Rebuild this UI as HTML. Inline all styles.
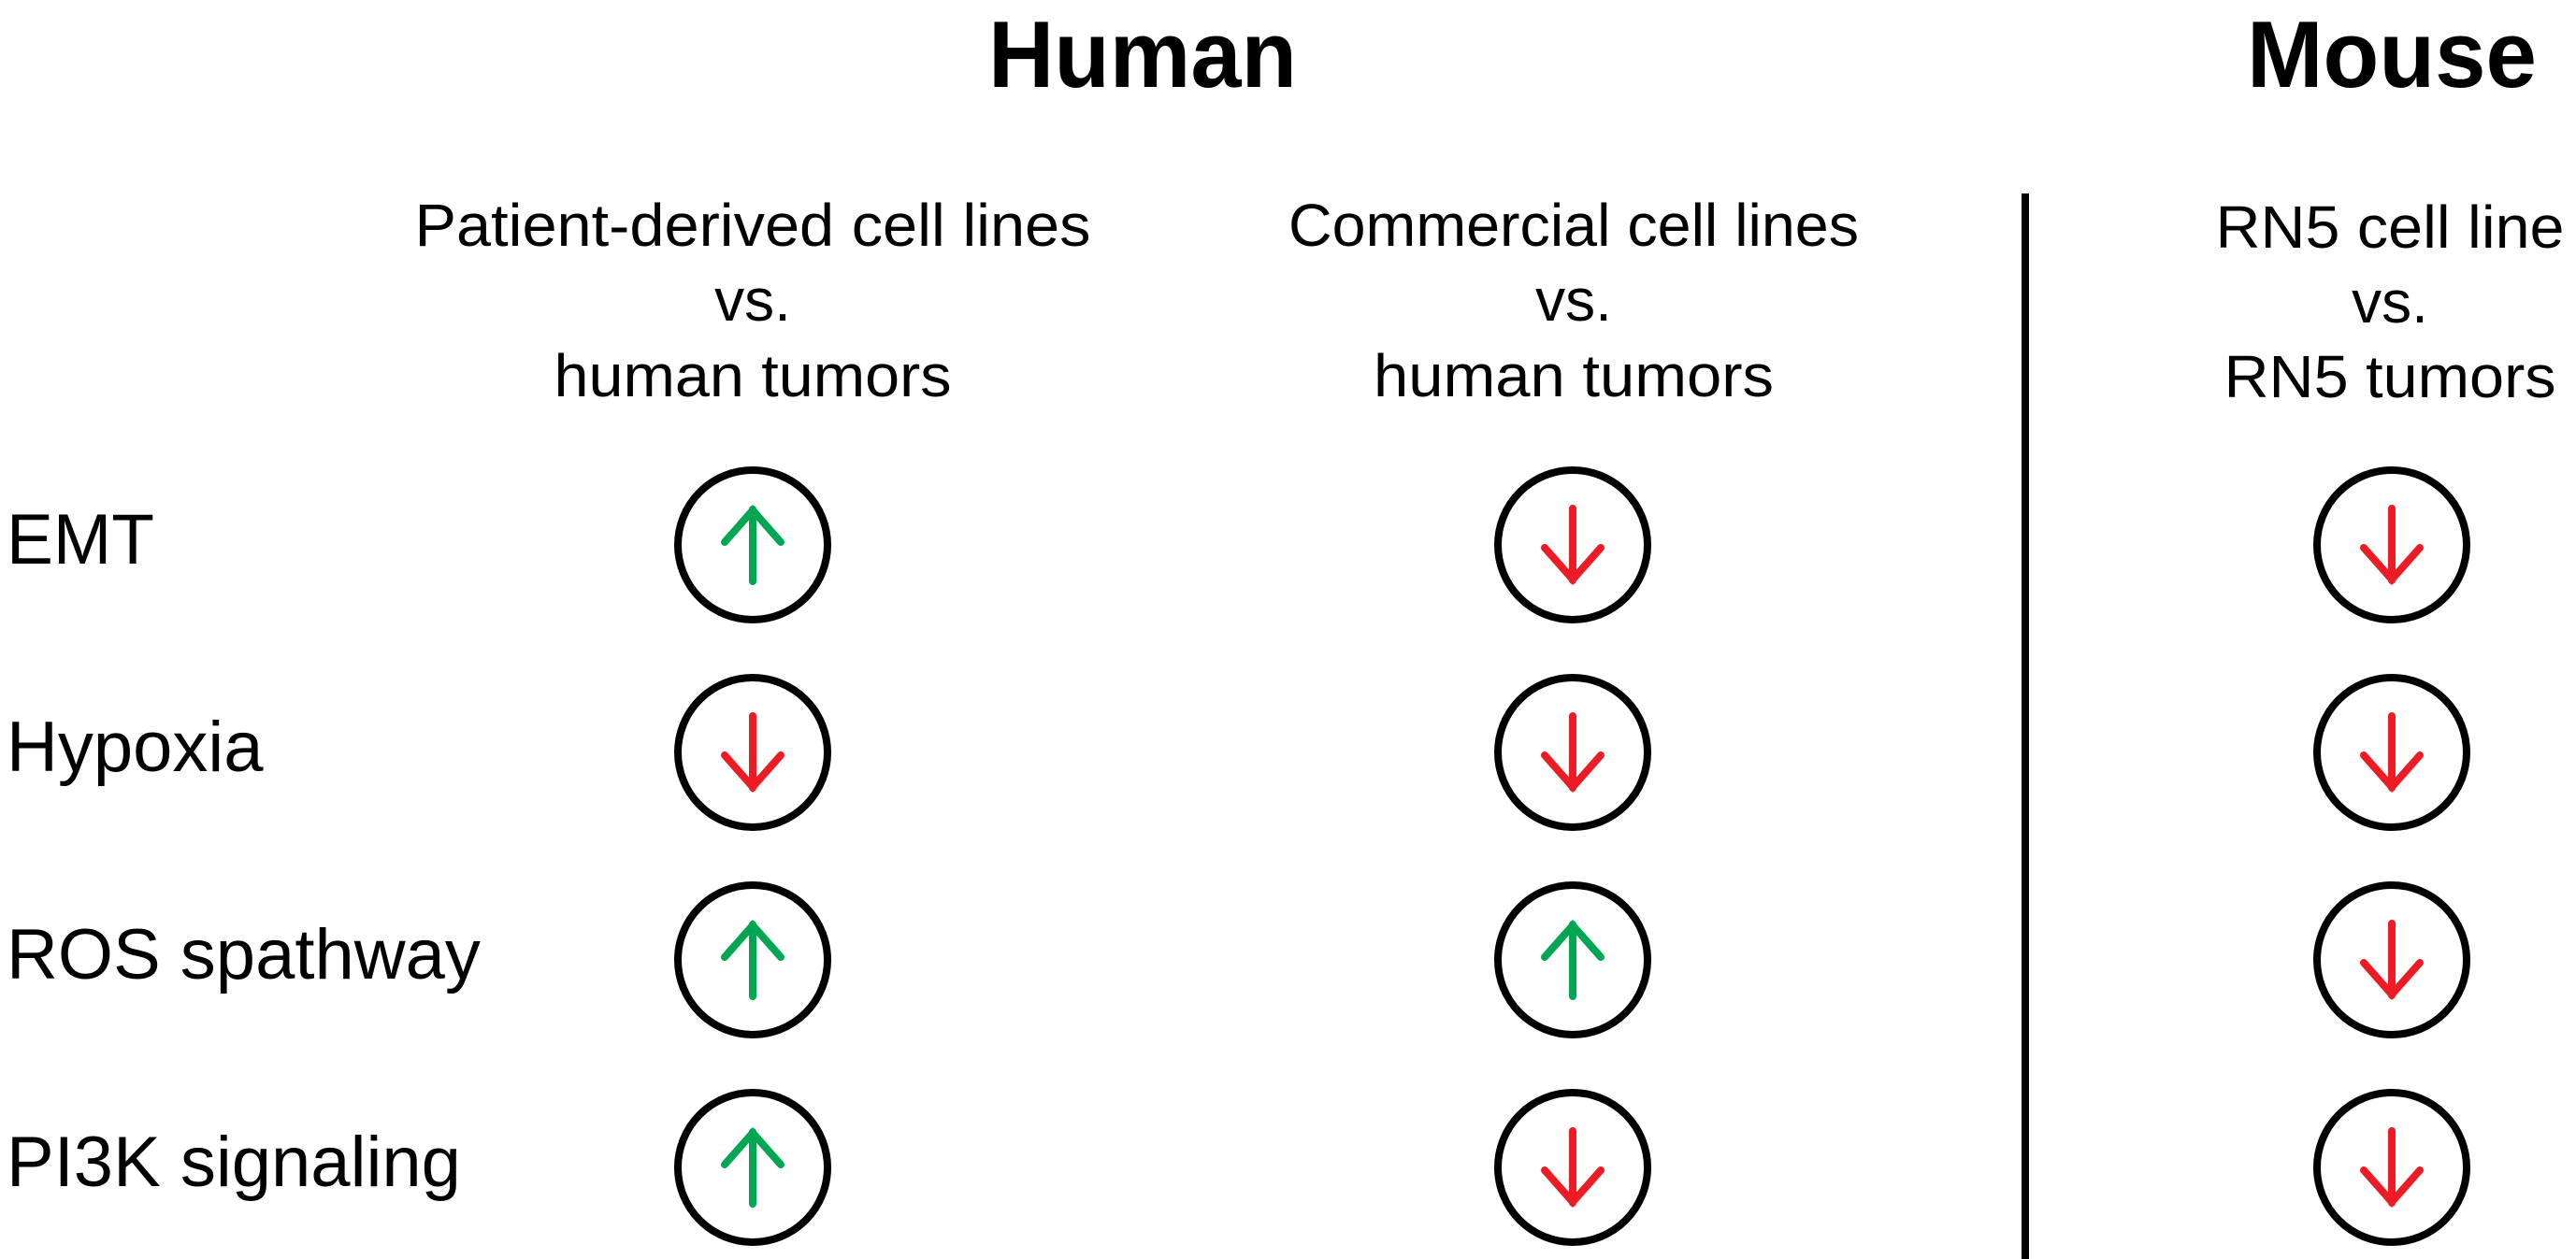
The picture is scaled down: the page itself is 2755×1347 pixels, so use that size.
<!DOCTYPE html>
<html><head><meta charset="utf-8"><style>html,body{margin:0;padding:0;background:#fff}svg{display:block}</style></head>
<body>
<svg width="2755" height="1347" viewBox="0 0 2755 1347" xmlns="http://www.w3.org/2000/svg" font-family="Liberation Sans, Arial, sans-serif">
<defs>
<g id="up"><path d="M0,39 V-38 M-30,-3 L0,-37 L30,-3" fill="none" stroke="#00a651" stroke-width="8" stroke-linecap="round" stroke-linejoin="miter"/></g>
<g id="dn"><path d="M0,-39 V38 M-30,3 L0,37 L30,3" fill="none" stroke="#ed1c24" stroke-width="8" stroke-linecap="round" stroke-linejoin="miter"/></g>
</defs>
<text x="1222" y="93" font-size="101" font-weight="bold" text-anchor="middle" textLength="330" lengthAdjust="spacingAndGlyphs">Human</text>
<text x="2558" y="93" font-size="101" font-weight="bold" text-anchor="middle" textLength="310" lengthAdjust="spacingAndGlyphs">Mouse</text>
<g font-size="64" text-anchor="middle">
<text x="805" y="263" textLength="723" lengthAdjust="spacingAndGlyphs">Patient-derived cell lines</text>
<text x="805" y="343">vs.</text>
<text x="805" y="424" textLength="425" lengthAdjust="spacingAndGlyphs">human tumors</text>
<text x="1683" y="263" textLength="610" lengthAdjust="spacingAndGlyphs">Commercial cell lines</text>
<text x="1683" y="343">vs.</text>
<text x="1683" y="424" textLength="428" lengthAdjust="spacingAndGlyphs">human tumors</text>
<text x="2556" y="265" textLength="373" lengthAdjust="spacingAndGlyphs">RN5 cell line</text>
<text x="2556" y="345">vs.</text>
<text x="2556" y="425" textLength="355" lengthAdjust="spacingAndGlyphs">RN5 tumors</text>
</g>
<rect x="2162" y="207" width="8" height="1140" fill="#000"/>
<g font-size="76">
<text x="7" y="603" textLength="158" lengthAdjust="spacingAndGlyphs">EMT</text>
<text x="7" y="825">Hypoxia</text>
<text x="7" y="1047">ROS spathway</text>
<text x="7" y="1269">PI3K signaling</text>
</g>
<g fill="none" stroke="#000" stroke-width="8">
<circle cx="805" cy="583" r="80"/><circle cx="1682" cy="583" r="80"/><circle cx="2558" cy="583" r="80"/>
<circle cx="805" cy="805" r="80"/><circle cx="1682" cy="805" r="80"/><circle cx="2558" cy="805" r="80"/>
<circle cx="805" cy="1027" r="80"/><circle cx="1682" cy="1027" r="80"/><circle cx="2558" cy="1027" r="80"/>
<circle cx="805" cy="1249" r="80"/><circle cx="1682" cy="1249" r="80"/><circle cx="2558" cy="1249" r="80"/>
</g>
<use href="#up" x="805" y="583"/><use href="#dn" x="1682" y="583"/><use href="#dn" x="2558" y="583"/>
<use href="#dn" x="805" y="805"/><use href="#dn" x="1682" y="805"/><use href="#dn" x="2558" y="805"/>
<use href="#up" x="805" y="1027"/><use href="#up" x="1682" y="1027"/><use href="#dn" x="2558" y="1027"/>
<use href="#up" x="805" y="1249"/><use href="#dn" x="1682" y="1249"/><use href="#dn" x="2558" y="1249"/>
</svg>
</body></html>
